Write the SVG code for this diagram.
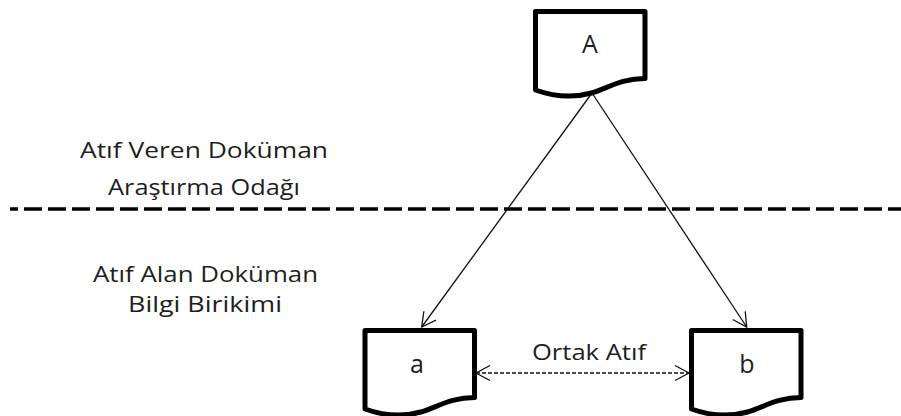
<svg xmlns="http://www.w3.org/2000/svg" width="901" height="416" viewBox="0 0 901 416">
<style>
.doc{fill:#fff;stroke:#000;stroke-width:5;stroke-linejoin:round}
.lbl{font-family:"Open Sans","Liberation Sans",sans-serif;fill:#1e1e1e;text-anchor:middle}
.node{font-size:25px}
.side{font-size:22.5px}
.conn{stroke:#111;stroke-width:1.3;fill:none}
</style>
<defs>
<path id="docshape" d="M0,0 H109.5 V67 C85,67 72,77 56,81.5 C38,86.5 18,85 0,78.5 Z"/>
<marker id="arr" markerUnits="userSpaceOnUse" markerWidth="20" markerHeight="20" viewBox="-16 -10 20 20" refX="0" refY="0" orient="auto-start-reverse">
<path d="M-14,-7.5 L0,0 L-14,7.5" fill="none" stroke="#111" stroke-width="1.3"/>
</marker>
</defs>
<g id="divider">
<line x1="10" y1="209" x2="901" y2="209" stroke="#000" stroke-width="3.5" stroke-dasharray="18 6" stroke-dashoffset="10"/>
</g>
<g id="side-labels" class="lbl side">
<text x="204" y="158" textLength="248" lengthAdjust="spacingAndGlyphs">Atıf Veren Doküman</text>
<text x="204" y="195" textLength="192" lengthAdjust="spacingAndGlyphs">Araştırma Odağı</text>
<text x="205.5" y="282" textLength="225" lengthAdjust="spacingAndGlyphs">Atıf Alan Doküman</text>
<text x="205" y="312" textLength="154" lengthAdjust="spacingAndGlyphs">Bilgi Birikimi</text>
</g>
<g id="connectors">
<line class="conn" x1="592" y1="93" x2="421.7" y2="327" marker-end="url(#arr)"/>
<line class="conn" x1="592" y1="93" x2="746.7" y2="327" marker-end="url(#arr)"/>
<line class="conn" x1="476" y1="373" x2="689" y2="373" stroke-dasharray="4 2" marker-start="url(#arr)" marker-end="url(#arr)"/>
<text class="lbl side" x="589" y="360" textLength="114" lengthAdjust="spacingAndGlyphs">Ortak Atıf</text>
</g>
<g id="node-A">
<use href="#docshape" class="doc" x="535.5" y="11.5"/>
<text class="lbl node" x="590" y="53">A</text>
</g>
<g id="node-a">
<use href="#docshape" class="doc" x="365" y="330.5"/>
<text class="lbl node" x="417" y="373">a</text>
</g>
<g id="node-b">
<use href="#docshape" class="doc" x="691.5" y="330.5"/>
<text class="lbl node" x="747" y="373">b</text>
</g>
</svg>
